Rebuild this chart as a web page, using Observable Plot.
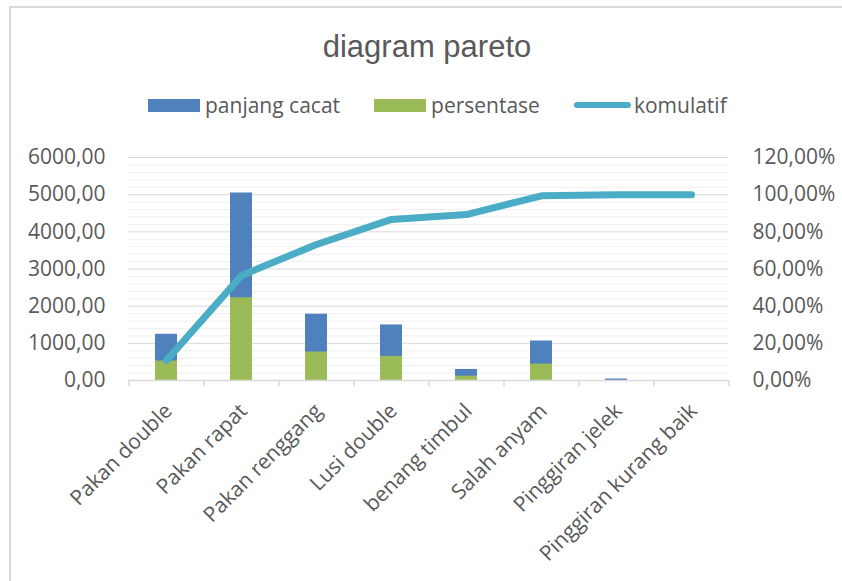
<!DOCTYPE html>
<html>
<head>
<meta charset="utf-8">
<script src="https://cdn.jsdelivr.net/npm/d3@7"></script>
<script src="https://cdn.jsdelivr.net/npm/@observablehq/plot@0.6"></script>
<style>
  body { margin: 0; background: #fff; }
  #wrap { position: relative; width: 842px; height: 581px; overflow: hidden; background: #fff; }
  #border { position: absolute; left: 9px; top: 6px; right: -10px; bottom: -10px; border-left: 2px solid #d9d9d9; border-top: 2px solid #d9d9d9; }
  #title { position: absolute; top: 31px; left: 14px; width: 826px; text-align: center; font-family: "Liberation Sans", Arial, sans-serif; font-size: 31px; line-height: 31px; color: #595959; }
  #legend { position: absolute; top: 93px; left: 148px; height: 24px; display: flex; align-items: center; font-family: "Open Sans", sans-serif; font-size: 21px; color: #595959; }
  .item { display: flex; align-items: center; margin-right: 34px; }
  .sw { width: 52px; height: 13px; margin-right: 5px; }
  .ln { width: 57px; height: 6px; border-radius: 3px; margin-right: 3px; }
  #chart { position: absolute; top: 130px; left: 0; }
</style>
</head>
<body>
<div id="wrap">
  <div id="border"></div>
  <div id="title">diagram pareto</div>
  <div id="legend"></div>
  <div id="chart"></div>
</div>
<script>
const categories = ["Pakan double", "Pakan rapat", "Pakan renggang", "Lusi double", "benang timbul", "Salah anyam", "Pinggiran jelek", "Pinggiran kurang baik"];
const panjangCacat = [1243, 5045, 1784, 1495, 297, 1063, 40, 0];
const persentase = [523, 2225, 766, 649, 117, 441, 0, 0];
const komulatif = [10.8, 56.5, 73.2, 86.7, 89.3, 99.4, 100, 100];
const leftTicks = [0, 1000, 2000, 3000, 4000, 5000, 6000];
const rightTickLabels = ["0,00%", "20,00%", "40,00%", "60,00%", "80,00%", "100,00%", "120,00%"];
const seriesNames = ["panjang cacat", "persentase", "komulatif"];
const colors = ["#4F81BD", "#9BBB59", "#4BACC6"];

const leftMax = 6000, rightMax = 120;
const data = categories.map((c, i) => ({cat: c, panjang: panjangCacat[i], pers: persentase[i], kom: komulatif[i]}));
const minorTicks = d3.range(200, leftMax, 200).filter(v => v % 1000 !== 0);

// legend
const legend = document.getElementById("legend");
seriesNames.forEach((name, i) => {
  const it = document.createElement("div");
  it.className = "item";
  const sw = document.createElement("div");
  sw.className = i === 2 ? "ln" : "sw";
  sw.style.background = colors[i];
  const tx = document.createElement("span");
  tx.textContent = name;
  it.appendChild(sw); it.appendChild(tx);
  legend.appendChild(it);
});

const fmtLeft = d => d.toFixed(2).replace(".", ",");
const fmtRight = d => rightTickLabels[leftTicks.indexOf(d)];

const chart = Plot.plot({
  width: 842,
  height: 451,
  marginTop: 27,
  marginBottom: 201,
  marginLeft: 128,
  marginRight: 114,
  style: {fontFamily: "Open Sans, sans-serif", fontSize: "21px", color: "#595959", background: "transparent", overflow: "visible"},
  x: {domain: categories, paddingInner: 0.707, paddingOuter: 0.3535},
  y: {domain: [0, leftMax]},
  marks: [
    Plot.ruleY(minorTicks, {stroke: "#efefef", strokeWidth: 1}),
    Plot.ruleY(leftTicks.slice(1), {stroke: "#d9d9d9", strokeWidth: 1}),
    Plot.barY(data, {x: "cat", y1: 0, y2: "panjang", fill: colors[0]}),
    Plot.barY(data, {x: "cat", y1: 0, y2: "pers", fill: colors[1]}),
    Plot.ruleY([0], {stroke: "#d9d9d9", strokeWidth: 1.5}),
    Plot.ruleX(categories, {x: d => d, y1: 0, y2: -170, dx: -37.5, stroke: "#d9d9d9", strokeWidth: 1.5}),
    Plot.ruleX(categories.slice(-1), {x: d => d, y1: 0, y2: -170, dx: 37.5, stroke: "#d9d9d9", strokeWidth: 1.5}),
    Plot.line(data, {x: "cat", y: d => d.kom / rightMax * leftMax, stroke: colors[2], strokeWidth: 7, strokeLinecap: "round", strokeLinejoin: "round"}),
    Plot.axisY({ticks: leftTicks, tickFormat: fmtLeft, tickSize: 0, tickPadding: 23, label: null}),
    Plot.axisY({anchor: "right", ticks: leftTicks, tickFormat: fmtRight, tickSize: 0, tickPadding: 24, label: null}),
    Plot.axisX({tickRotate: -45, tickSize: 0, tickPadding: 27, dx: 2, label: null})
  ]
});
document.getElementById("chart").appendChild(chart);
</script>
</body>
</html>
